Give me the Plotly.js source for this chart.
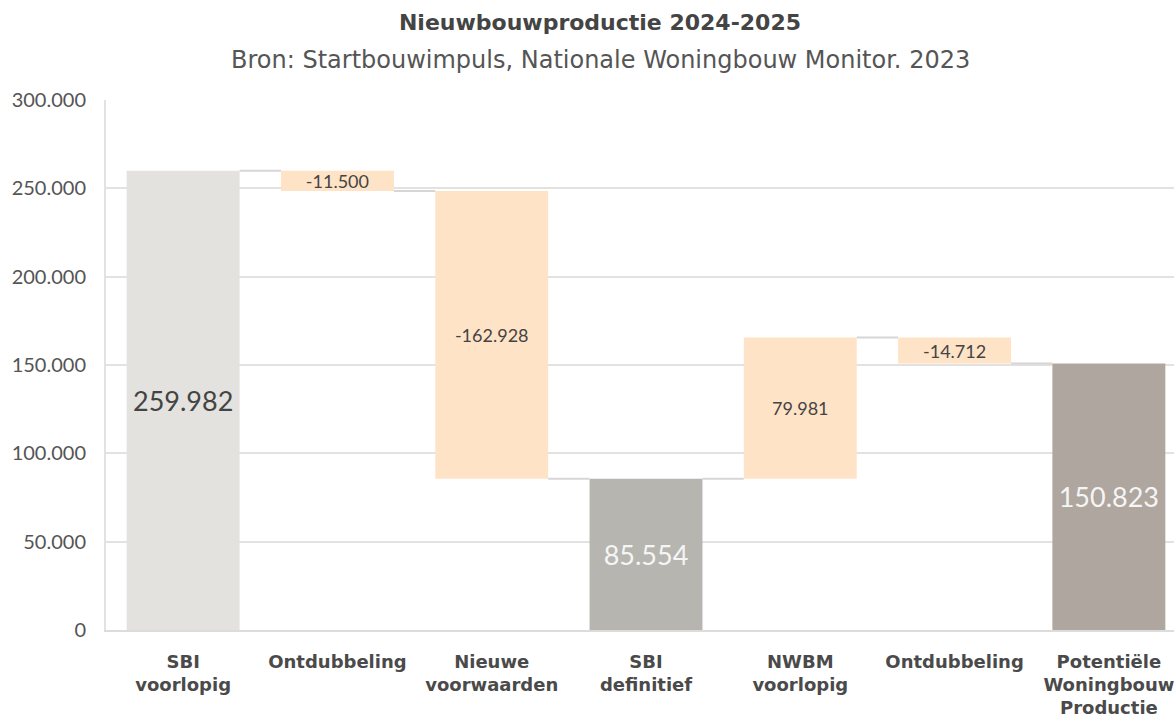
<!DOCTYPE html>
<html>
<head>
<meta charset="utf-8">
<script src="https://cdn.plot.ly/plotly-3.0.1.min.js"></script>
<style>
  html, body { margin: 0; padding: 0; overflow: hidden; background: #fff; }
  #chart { width: 1200px; height: 722px; }
</style>
</head>
<body>
<div id="chart"></div>
<script>
var categories = ['SBI<br>voorlopig', 'Ontdubbeling', 'Nieuwe<br>voorwaarden', 'SBI<br>definitief',
                  'NWBM<br>voorlopig', 'Ontdubbeling', 'Potentiële<br>Woningbouw<br>Productie'];
var values   = [259982, -11500, -162928, 85554, 79981, -14712, 150823];
var measures = ['absolute', 'relative', 'relative', 'total', 'relative', 'relative', 'total'];
var barColors = ['#e3e2de', '#fee3c7', '#fee3c7', '#b6b5b0', '#fee3c7', '#fee3c7', '#aea69f'];

// build bar bases/heights from the running total
var xs = [], bases = [], heights = [], levels = [], labels = [];
var cum = 0;
for (var i = 0; i < values.length; i++) {
  xs.push(i);
  if (measures[i] == 'relative') {
    bases.push(cum);
    heights.push(values[i]);
    cum += values[i];
  } else {
    if (measures[i] == 'absolute') cum = values[i];
    bases.push(0);
    heights.push(cum);
  }
  levels.push(cum);
  labels.push(values[i].toLocaleString('nl-NL'));
}

var barWidth = 0.732;
var textSizes = measures.map(function(m) { return m == 'relative' ? 18 : 27; });
var textColors = measures.map(function(m, i) { return i == 0 ? '#444' : (m == 'relative' ? '#444' : '#f5f5f5'); });

var bars = {
  type: 'bar',
  x: xs,
  y: heights,
  base: bases,
  width: barWidth,
  marker: {color: barColors},
  text: labels,
  textposition: 'inside',
  insidetextanchor: 'middle',
  constraintext: 'none',
  textfont: {family: 'Lato', size: textSizes, color: textColors},
  hoverinfo: 'skip',
  showlegend: false
};

// connector segments between neighbouring bars
var cx = [], cy = [];
for (var j = 0; j < values.length - 1; j++) {
  cx.push(j + barWidth / 2, j + 1 - barWidth / 2, null);
  cy.push(levels[j], levels[j], null);
}
var connectors = {
  type: 'scatter',
  mode: 'lines',
  x: cx,
  y: cy,
  line: {color: '#d6d6d6', width: 2},
  hoverinfo: 'skip',
  showlegend: false
};

var layout = {
  width: 1200,
  height: 722,
  margin: {t: 100, b: 92, l: 106, r: 14},
  separators: ',.',
  paper_bgcolor: '#fff',
  plot_bgcolor: '#fff',
  font: {family: 'Lato', color: '#555'},
  title: {
    text: '<b>Nieuwbouwproductie 2024-2025</b>',
    font: {family: 'DejaVu Sans', size: 22, color: '#444'},
    x: 0.5, xref: 'container', xanchor: 'center',
    y: 1 - 22 / 722, yref: 'container', yanchor: 'middle'
  },
  annotations: [{
    // subtitle, centred on the page rather than the plot area
    text: 'Bron: Startbouwimpuls, Nationale Woningbouw Monitor. 2023',
    font: {family: 'DejaVu Sans', size: 24, color: '#555'},
    xref: 'paper', x: (600 - 106) / 1080, xanchor: 'center',
    yref: 'paper', y: 1 + 40 / 530, yanchor: 'middle',
    showarrow: false
  }],
  xaxis: {
    type: 'linear',
    range: [-0.5, 6.5],
    tickvals: xs,
    ticktext: categories,
    showgrid: false,
    zeroline: false,
    showline: true,
    linecolor: '#dcdcdc',
    linewidth: 2,
    ticks: '',
    ticklabelstandoff: 14,
    tickfont: {family: 'DejaVu Sans', size: 18, color: '#4a4a4a', weight: 'bold'},
    fixedrange: true
  },
  yaxis: {
    range: [0, 300000],
    dtick: 50000,
    tickformat: ',',
    showgrid: true,
    gridcolor: '#e2e2e2',
    gridwidth: 2,
    zeroline: false,
    showline: true,
    linecolor: '#e2e2e2',
    linewidth: 2,
    ticks: '',
    ticklabelstandoff: 14,
    tickfont: {family: 'Lato', size: 20, color: '#555'},
    fixedrange: true
  }
};

var config = {displayModeBar: false, staticPlot: true};

Plotly.newPlot('chart', [bars, connectors], layout, config);
</script>
</body>
</html>
